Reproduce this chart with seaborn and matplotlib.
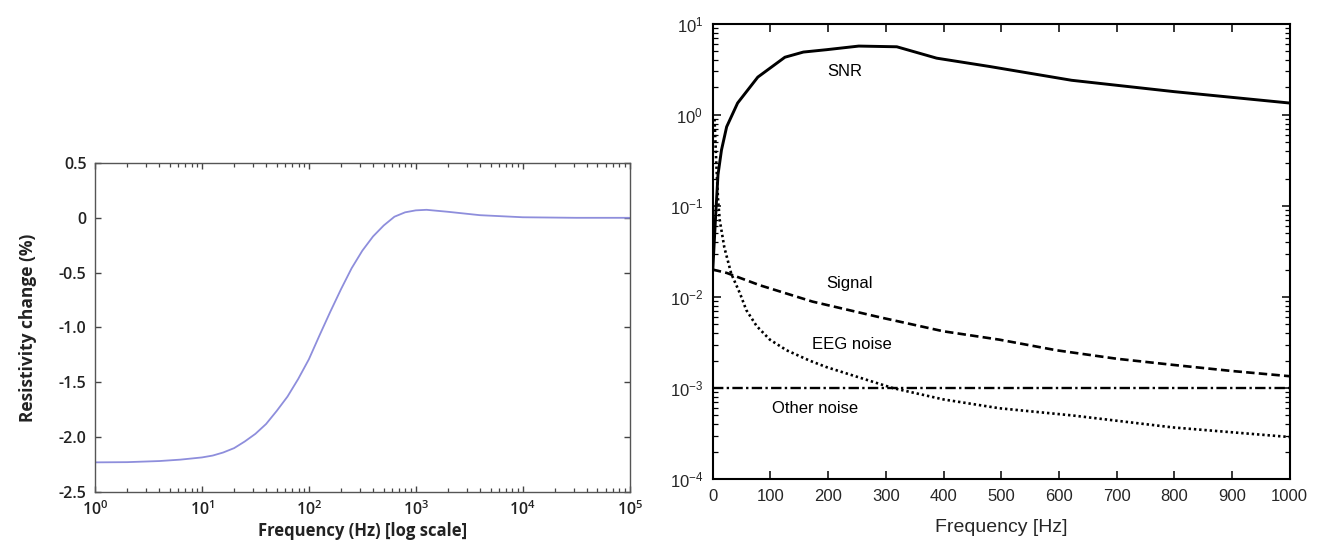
import numpy as np
import matplotlib
matplotlib.use("Agg")
import matplotlib.pyplot as plt
import seaborn as sns
from matplotlib.ticker import FixedLocator, NullFormatter

# ---------------- data: left panel ----------------
left_freq = [1, 2, 4, 6.3, 10, 12.6, 15.8, 20, 25.1, 31.6, 39.8, 50.1, 63.1, 79.4,
             100, 126, 158, 200, 251, 316, 398, 501, 631, 794, 1000, 1259, 1995,
             3981, 10000, 31623, 100000]
left_change = [-2.23, -2.228, -2.218, -2.205, -2.185, -2.168, -2.14, -2.10, -2.04,
               -1.97, -1.88, -1.76, -1.63, -1.47, -1.29, -1.07, -0.86, -0.65, -0.46,
               -0.30, -0.17, -0.07, 0.01, 0.05, 0.068, 0.073, 0.055, 0.024, 0.005,
               0.0, 0.0]
left_yticks = [0.5, 0, -0.5, -1.0, -1.5, -2.0, -2.5]
left_yticklabels = ["0.5", "0", "-0.5", "-1.0", "-1.5", "-2.0", "-2.5"]
left_xtick_exponents = [0, 1, 2, 3, 4, 5]

# ---------------- data: right panel ----------------
snr_freq = [0, 5, 9, 15, 24, 43, 78, 125, 157, 197, 253, 319, 388, 480, 622, 800, 1000]
snr_vals = [0.02, 0.08, 0.22, 0.41, 0.74, 1.35, 2.6, 4.3, 4.9, 5.2, 5.7, 5.6, 4.2,
            3.4, 2.4, 1.8, 1.35]
signal_freq = [0, 24, 81, 173, 289, 400, 497, 596, 700, 797, 900, 1000]
signal_vals = [0.02, 0.0184, 0.0135, 0.0089, 0.006, 0.0042, 0.0034, 0.0026, 0.0021,
               0.0018, 0.00154, 0.00135]
eeg_freq = [3, 6, 9, 12, 20, 32, 47, 58, 76, 99, 128, 168, 197, 255, 312, 400, 497,
            624, 797, 1000]
eeg_vals = [0.9, 0.3, 0.12, 0.07, 0.035, 0.018, 0.011, 0.0072, 0.0048, 0.0034, 0.0026,
            0.002, 0.0017, 0.0013, 0.001, 0.00075, 0.0006, 0.0005, 0.00037, 0.00029]
other_freq = [0, 1000]
other_vals = [0.001, 0.001]
series_names = ["SNR", "Signal", "EEG noise", "Other noise"]
right_xticks = [0, 100, 200, 300, 400, 500, 600, 700, 800, 900, 1000]
right_ytick_exponents = [-4, -3, -2, -1, 0, 1]

# label anchor positions (data coords)
name_x = [229, 237, 241, 177]
name_y = [3.0, 0.0142, 0.003, 0.0006]


def log_minor(exps):
    return [m * 10.0 ** e for e in exps[:-1] for m in range(2, 10)]


sns.set_style("ticks")
plt.rcParams['font.family'] = ['Liberation Sans', 'DejaVu Sans']

fig = plt.figure(figsize=(13.2, 5.42), dpi=100)
ax1 = fig.add_axes([0.072, 0.0923, 0.405, 0.607])
ax2 = fig.add_axes([0.540, 0.116, 0.437, 0.840])

# ---------------- left panel ----------------
sns.lineplot(x=left_freq, y=left_change, ax=ax1, color='#8e8edc', linewidth=1.3)
ax1.set_xscale('log')
ax1.set_xlim(1, 1e5)
ax1.set_ylim(-2.5, 0.5)
lab_font = dict(family=['Open Sans', 'DejaVu Sans'], color='#222222')
ax1.set_xticks([10.0 ** e for e in left_xtick_exponents])
ax1.set_xticklabels([r"$\mathdefault{10^{%d}}$" % e for e in left_xtick_exponents],
                    fontsize=11.5, fontweight='semibold', **lab_font)
ax1.xaxis.set_minor_locator(FixedLocator(log_minor(left_xtick_exponents)))
ax1.xaxis.set_minor_formatter(NullFormatter())
ax1.set_yticks(left_yticks)
ax1.set_yticklabels(left_yticklabels, fontsize=11.5, fontweight='semibold', **lab_font)
ax1.tick_params(which='both', direction='in', top=True, right=True, color='#444444')
ax1.tick_params(which='major', length=4.5, width=1.0)
ax1.tick_params(which='minor', length=3, width=0.9)
ax1.tick_params(axis='x', which='major', pad=6)
ax1.tick_params(axis='y', which='major', pad=6)
for s in ax1.spines.values():
    s.set_color('#555555')
    s.set_linewidth(1.0)
ax1.set_xlabel("Frequency (Hz) [log scale]", fontsize=12, fontweight='bold',
               labelpad=2, **lab_font)
ax1.set_ylabel("Resistivity change (%)", fontsize=12.5, fontweight='bold',
               labelpad=16, **lab_font)

# ---------------- right panel ----------------
sns.lineplot(x=snr_freq, y=snr_vals, ax=ax2, color='black', linewidth=2.1)
sns.lineplot(x=signal_freq, y=signal_vals, ax=ax2, color='black', linewidth=1.9,
             linestyle=(0, (3.2, 1.6)))
sns.lineplot(x=eeg_freq, y=eeg_vals, ax=ax2, color='black', linewidth=1.9,
             linestyle=(0, (0.9, 1.1)))
sns.lineplot(x=other_freq, y=other_vals, ax=ax2, color='black', linewidth=1.7,
             linestyle=(0, (4.4, 1.4, 1.0, 1.4)))
ax2.set_yscale('log')
ax2.set_xlim(0, 1000)
ax2.set_ylim(1e-4, 10)
ax2.set_xticks(right_xticks)
ax2.set_xticklabels([str(t) for t in right_xticks], fontsize=12)
ax2.set_yticks([10.0 ** e for e in right_ytick_exponents])
ax2.set_yticklabels([r"$\mathdefault{10^{%d}}$" % e for e in right_ytick_exponents],
                    fontsize=12)
ax2.yaxis.set_minor_locator(FixedLocator(log_minor(right_ytick_exponents)))
ax2.yaxis.set_minor_formatter(NullFormatter())
ax2.tick_params(which='both', direction='in', top=True, right=True, color='black')
ax2.tick_params(which='major', length=5.5, width=1.1)
ax2.tick_params(which='minor', length=3.5, width=0.9)
ax2.tick_params(axis='x', which='major', pad=7)
ax2.tick_params(axis='y', which='major', pad=7)
for s in ax2.spines.values():
    s.set_color('black')
    s.set_linewidth(1.5)
ax2.set_xlabel("Frequency [Hz]", fontsize=14, labelpad=11)
ax2.set_ylabel("")
for name, x, y in zip(series_names, name_x, name_y):
    ax2.text(x, y, name, fontsize=12, ha='center', va='center', color='black')

fig.savefig("out.png", dpi=100)
